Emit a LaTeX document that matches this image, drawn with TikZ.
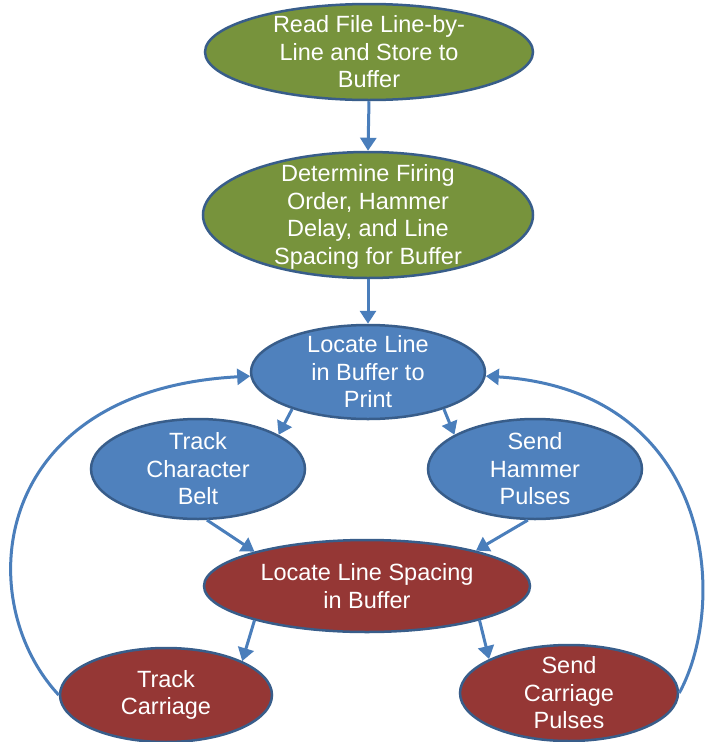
\documentclass[tikz,border=0pt]{standalone}
\usepackage{fontspec}
\setmainfont{Liberation Sans}
\usetikzlibrary{shapes.geometric,arrows.meta}
\definecolor{gfill}{HTML}{77933C}
\definecolor{bfill}{HTML}{4F81BD}
\definecolor{rfill}{HTML}{953735}
\definecolor{edgec}{HTML}{385D8A}
\definecolor{arr}{HTML}{4A7EBB}
\begin{document}
\begin{tikzpicture}[x=1pt,y=-1pt,
  ell/.style={ellipse, draw=edgec, line width=2.5pt, inner sep=0pt},
  txt/.style={text=white, align=center, inner sep=0pt, font=\fontsize{23.5}{27.5}\selectfont},
  conn/.style={draw=arr, line width=3pt, -{Triangle[width=16pt,length=13pt]}}]
\useasboundingbox (0,0) rectangle (712,742);
\node[ell, fill=gfill, minimum width=328pt, minimum height=96pt] (a1) at (369,52) {};
\node[ell, fill=gfill, minimum width=330pt, minimum height=126pt] (a2) at (368,215) {};
\node[ell, fill=bfill, minimum width=234pt, minimum height=94pt] (a3) at (368,372) {};
\node[ell, fill=bfill, minimum width=214pt, minimum height=100pt] (a4) at (198,469) {};
\node[ell, fill=bfill, minimum width=214pt, minimum height=100pt] (a5) at (535,469) {};
\node[ell, fill=rfill, minimum width=326pt, minimum height=92pt] (a6) at (367,586) {};
\node[ell, fill=rfill, minimum width=212pt, minimum height=94pt] (a7) at (166,695) {};
\node[ell, fill=rfill, minimum width=218pt, minimum height=96pt] (a8) at (569,693) {};
\node[txt] (t1) at (a1) {Read File Line-by-\\Line and Store to\\Buffer};
\node[txt] (t2) at (368,217) {Determine Firing\\Order, Hammer\\Delay, and Line\\Spacing for Buffer};
\node[txt] (t3) at (a3) {Locate Line\\in Buffer to\\Print};
\node[txt] (t4) at (a4) {Track\\Character\\Belt};
\node[txt] (t5) at (a5) {Send\\Hammer\\Pulses};
\node[txt] (t6) at (a6) {Locate Line Spacing\\in Buffer};
\node[txt] (t7) at (a7) {Track\\Carriage};
\node[txt] (t8) at (a8) {Send\\Carriage\\Pulses};
\draw[conn] (a1.south) -- (a2.north);
\draw[conn] (a2.south) -- (a3.north);
\draw[conn] (a3.206) -- (a4.23);
\draw[conn] (a3.334) -- (a5.157);
\draw[conn] (a4.280) -- (a6.163);
\draw[conn] (a5.262) -- (a6.18);
\draw[conn] (a6.197) -- (a7.24);
\draw[conn] (a6.343) -- (a8.157);
\draw[conn] (a7.west) .. controls (-30,600) and (-10,390) .. (a3.182);
\draw[conn] (a8.east) .. controls (730,600) and (712,390) .. (a3.358);
\end{tikzpicture}
\end{document}
